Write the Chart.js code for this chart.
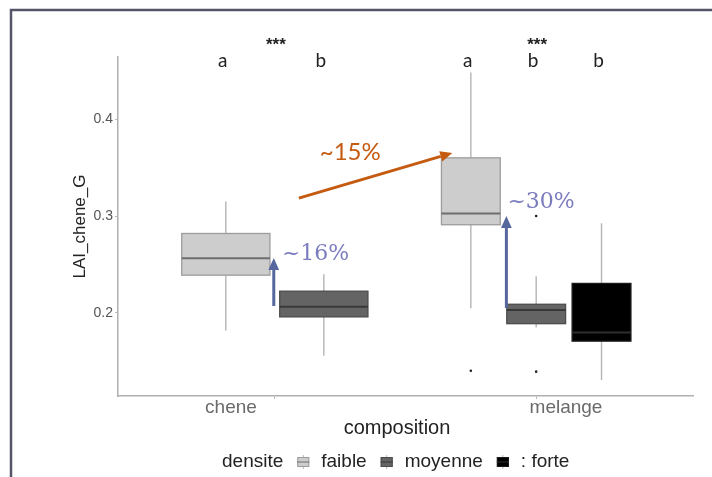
<!DOCTYPE html>
<html>
<head>
<meta charset="utf-8">
<script src="https://cdn.jsdelivr.net/npm/chart.js@4.4.0/dist/chart.umd.min.js"></script>
<style>
  body { margin: 0; background: #fff; }
  canvas { display: block; }
</style>
</head>
<body>
<canvas id="boxChart" width="712" height="477"></canvas>
<script>
// groupes (axe x) et densites
const groups = ['chene', 'melange'];
const densites = ['faible', 'moyenne', 'forte'];

// une entree par boite
const boxGroup = [0, 0, 1, 1, 1];
const boxDensite = [0, 1, 0, 1, 2];
const whiskerLow = [0.182, 0.156, 0.205, 0.185, 0.131];
const q1 = [0.239, 0.196, 0.291, 0.189, 0.171];
const median = [0.2565, 0.2065, 0.3025, 0.203, 0.180];
const q3 = [0.282, 0.2225, 0.360, 0.209, 0.2305];
const whiskerHigh = [0.315, 0.240, 0.448, 0.238, 0.2925];
const letters = ['a', 'b', 'a', 'b', 'b'];

// points isoles
const outlierBox = [2, 3, 3];
const outlierValue = [0.1405, 0.300, 0.1395];

const yTicks = [0.2, 0.3, 0.4];

// fleches + pourcentages (en unites des axes)
const arrowFrom = [[1.092, 0.3185], [0.996, 0.2072], [1.886, 0.2052]];
const arrowTo = [[1.679, 0.365], [0.996, 0.2567], [1.886, 0.300]];
const arrowColor = ['#c55a11', '#56679e', '#56679e'];
const pctText = ['~15%', '~16%', '~30%'];
const pctPos = [[1.172, 0.3655], [1.027, 0.261], [1.89, 0.3144]];
const pctColor = ['#c55a11', '#7b7cbd', '#7b7cbd'];
const pctFont = ['24px Lato', '22px "DejaVu Serif"', '22px "DejaVu Serif"'];

const fills = ['#cdcdcd', '#646464', '#000000'];
const borders = ['#9c9c9c', '#4c4c4c', '#1a1a1a'];
const medColors = ['#6e6e6e', '#393939', '#2e2e2e'];

// position dodge a la ggplot
function boxCount(g) { return boxGroup.filter(b => b === g).length; }
function boxX(i) {
    const g = boxGroup[i];
    const n = boxCount(g);
    const k = boxGroup.slice(0, i).filter(b => b === g).length;
    return g + 1 - 0.375 + (k + 0.5) * 0.75 / n;
}
function boxHalf(i) { return 0.9 * 0.75 / boxCount(boxGroup[i]) / 2; }

const outliers = outlierBox.map((b, j) => ({ x: boxX(b), y: outlierValue[j] }));

function arrow(ctx, x1, y1, x2, y2, color, w, head) {
    const a = Math.atan2(y2 - y1, x2 - x1);
    const bx = x2 - head * Math.cos(a), by = y2 - head * Math.sin(a);
    ctx.strokeStyle = color;
    ctx.fillStyle = color;
    ctx.lineWidth = w;
    ctx.beginPath();
    ctx.moveTo(x1, y1);
    ctx.lineTo(bx, by);
    ctx.stroke();
    ctx.beginPath();
    ctx.moveTo(x2, y2);
    ctx.lineTo(bx + head * 0.45 * Math.sin(a), by - head * 0.45 * Math.cos(a));
    ctx.lineTo(bx - head * 0.45 * Math.sin(a), by + head * 0.45 * Math.cos(a));
    ctx.closePath();
    ctx.fill();
}

function legendIcon(ctx, x, y, d) {
    ctx.strokeStyle = '#b8b8b8';
    ctx.lineWidth = 1;
    ctx.beginPath();
    ctx.moveTo(x + 6, y - 7);
    ctx.lineTo(x + 6, y + 7);
    ctx.stroke();
    ctx.fillStyle = fills[d];
    ctx.fillRect(x, y - 5, 12, 10);
    ctx.strokeStyle = borders[d];
    ctx.strokeRect(x + 0.5, y - 4.5, 11, 9);
    ctx.strokeStyle = medColors[d];
    ctx.beginPath();
    ctx.moveTo(x, y);
    ctx.lineTo(x + 12, y);
    ctx.stroke();
}

const boxPlugin = {
    id: 'boxes',
    beforeDraw(chart) {
        const ctx = chart.ctx;
        ctx.save();
        ctx.fillStyle = '#fff';
        ctx.fillRect(0, 0, chart.width, chart.height);
        ctx.strokeStyle = '#55556a';
        ctx.lineWidth = 2.5;
        ctx.beginPath();
        ctx.moveTo(11, 477);
        ctx.lineTo(11, 10);
        ctx.lineTo(712, 10);
        ctx.stroke();
        ctx.restore();
    },
    beforeDatasetsDraw(chart) {
        const ctx = chart.ctx;
        const xs = chart.scales.x, ys = chart.scales.y;
        ctx.save();
        for (let i = 0; i < q1.length; i++) {
            const d = boxDensite[i];
            const cx = xs.getPixelForValue(boxX(i));
            const l = xs.getPixelForValue(boxX(i) - boxHalf(i));
            const r = xs.getPixelForValue(boxX(i) + boxHalf(i));
            ctx.strokeStyle = '#b5b5b5';
            ctx.lineWidth = 1.4;
            ctx.beginPath();
            ctx.moveTo(cx, ys.getPixelForValue(whiskerHigh[i]));
            ctx.lineTo(cx, ys.getPixelForValue(q3[i]));
            ctx.moveTo(cx, ys.getPixelForValue(q1[i]));
            ctx.lineTo(cx, ys.getPixelForValue(whiskerLow[i]));
            ctx.stroke();
            const top = ys.getPixelForValue(q3[i]);
            const bot = ys.getPixelForValue(q1[i]);
            ctx.fillStyle = fills[d];
            ctx.fillRect(l, top, r - l, bot - top);
            ctx.strokeStyle = borders[d];
            ctx.lineWidth = 1.3;
            ctx.strokeRect(l, top, r - l, bot - top);
            ctx.strokeStyle = medColors[d];
            ctx.lineWidth = 2;
            const m = ys.getPixelForValue(median[i]);
            ctx.beginPath();
            ctx.moveTo(l, m);
            ctx.lineTo(r, m);
            ctx.stroke();
        }
        ctx.restore();
    },
    afterDraw(chart) {
        const ctx = chart.ctx;
        const xs = chart.scales.x, ys = chart.scales.y;
        ctx.save();
        ctx.textAlign = 'center';
        ctx.textBaseline = 'middle';
        // etoiles
        ctx.fillStyle = '#222';
        ctx.font = 'bold 17px "Liberation Sans"';
        groups.forEach((g, k) => ctx.fillText('***', xs.getPixelForValue(k + 1) + 1, 45));
        // lettres
        ctx.font = '19px Lato';
        letters.forEach((t, i) => ctx.fillText(t, xs.getPixelForValue(boxX(i)) - 3, 61));
        // noms des groupes
        ctx.fillStyle = '#6a6a6a';
        ctx.font = '19px "Liberation Sans"';
        ctx.fillText(groups[0], 231, 408);
        ctx.fillText(groups[1], 566, 408);
        ctx.fillStyle = '#222';
        ctx.font = '20px "Liberation Sans"';
        ctx.fillText('composition', 397, 428);
        // fleches
        arrowFrom.forEach((p, j) => {
            arrow(ctx, xs.getPixelForValue(p[0]), ys.getPixelForValue(p[1]),
                xs.getPixelForValue(arrowTo[j][0]), ys.getPixelForValue(arrowTo[j][1]),
                arrowColor[j], 3, 12);
        });
        ctx.textAlign = 'left';
        pctText.forEach((t, j) => {
            ctx.fillStyle = pctColor[j];
            ctx.font = pctFont[j];
            ctx.fillText(t, xs.getPixelForValue(pctPos[j][0]), ys.getPixelForValue(pctPos[j][1]));
        });
        // legende
        ctx.font = '19px "Liberation Sans"';
        ctx.fillStyle = '#222';
        let x = 222;
        const y = 462;
        ctx.fillText('densite', x, y);
        x += ctx.measureText('densite').width + 14;
        const labs = ['faible', 'moyenne', ': forte'];
        labs.forEach((t, d) => {
            legendIcon(ctx, x, y, d);
            x += 12 + 12;
            ctx.fillStyle = '#222';
            ctx.fillText(t, x, y);
            x += ctx.measureText(t).width + 14;
        });
        ctx.restore();
    }
};

new Chart(document.getElementById('boxChart'), {
    type: 'scatter',
    data: {
        datasets: [{
            data: outliers,
            pointRadius: 1.3,
            pointBackgroundColor: '#222',
            pointBorderWidth: 0
        }]
    },
    options: {
        responsive: false,
        animation: false,
        layout: { padding: { top: 57, right: 19, left: 66, bottom: 0 } },
        plugins: { legend: { display: false }, tooltip: { enabled: false } },
        scales: {
            x: {
                type: 'linear',
                min: 0.4,
                max: 2.6,
                afterBuildTicks: s => { s.ticks = groups.map((g, k) => ({ value: k + 1 })); },
                ticks: { callback: () => '' },
                afterFit: s => { s.height = 81; },
                grid: { drawOnChartArea: false, drawTicks: true, tickLength: 3, color: '#bbb' },
                border: { color: '#b0b0b0', width: 1.5 }
            },
            y: {
                min: 0.1144,
                max: 0.464,
                afterBuildTicks: s => { s.ticks = yTicks.map(v => ({ value: v })); },
                ticks: {
                    font: { size: 14, family: 'Liberation Sans' },
                    color: '#555',
                    padding: 2,
                    callback: v => v.toFixed(1)
                },
                title: {
                    display: true,
                    text: 'LAI_chene_G',
                    font: { size: 17, family: 'Liberation Sans' },
                    color: '#222',
                    padding: { top: 4, bottom: 0 }
                },
                afterFit: s => { s.width = 52; },
                grid: { drawOnChartArea: false, drawTicks: true, tickLength: 3, color: '#bbb' },
                border: { color: '#b0b0b0', width: 1.5 }
            }
        }
    },
    plugins: [boxPlugin]
});
</script>
</body>
</html>
